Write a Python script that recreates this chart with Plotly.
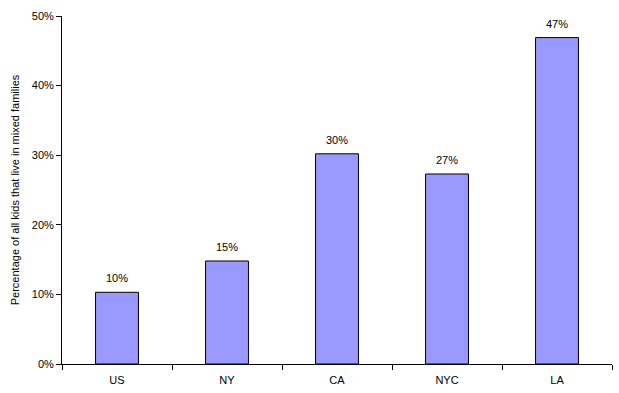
import plotly.graph_objects as go

categories = ["US", "NY", "CA", "NYC", "LA"]
values = [0.103, 0.148, 0.302, 0.273, 0.469]
y_ticks = [0, 0.1, 0.2, 0.3, 0.4, 0.5]
y_tick_labels = ["0%", "10%", "20%", "30%", "40%", "50%"]

fig = go.Figure(go.Bar(
    x=categories, y=values,
    marker=dict(color="#9999FF", line=dict(color="black", width=1)),
    width=0.39,
    cliponaxis=False,
))

for c, v in zip(categories, values):
    fig.add_annotation(
        x=c, y=v, text=f"{v:.0%}", showarrow=False,
        yanchor="bottom", yshift=6,
        font=dict(family="Arial, Liberation Sans", size=11, color="black"),
    )

fig.update_layout(
    width=619, height=393,
    margin=dict(l=62, r=7, t=16, b=29),
    plot_bgcolor="white", paper_bgcolor="white",
    font=dict(family="Arial, Liberation Sans", size=11, color="black"),
    showlegend=False,
)
fig.update_xaxes(
    showline=True, linecolor="black", linewidth=1,
    ticks="outside", ticklen=5, tickcolor="black", tickson="boundaries",
    showgrid=False, tickfont=dict(size=11, color="black"), ticklabelstandoff=6,
)
fig.update_yaxes(
    range=[0, 0.5], tickvals=y_ticks, ticktext=y_tick_labels,
    showline=True, linecolor="black", linewidth=1,
    ticks="outside", ticklen=5, tickcolor="black",
    showgrid=False, zeroline=False, tickfont=dict(size=11, color="black"),
    title=dict(text="Percentage of all kids that live in mixed families", font=dict(size=11, color="black"), standoff=9),
)

fig.write_html("out.html")
